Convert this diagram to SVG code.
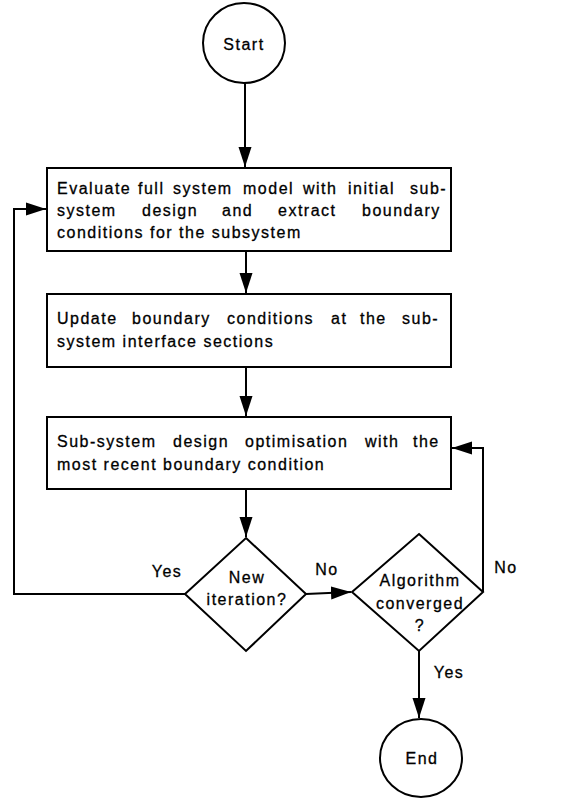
<svg xmlns="http://www.w3.org/2000/svg" width="567" height="798" viewBox="0 0 567 798">
<style>
.s{fill:#fff;stroke:#000;stroke-width:2}
.c{fill:none;stroke:#000;stroke-width:2}
text{font-family:"Liberation Sans",Arial,sans-serif;font-size:16px;letter-spacing:1.5px;fill:#000;stroke:#000;stroke-width:0.3}
.m{text-anchor:middle}
</style>
<defs>
<marker id="ah" markerUnits="userSpaceOnUse" markerWidth="21" markerHeight="14" refX="20" refY="7" orient="auto">
<path d="M0,0.5 L20,7 L0,13.5 z" fill="#000"/>
</marker>
</defs>
<rect width="567" height="798" fill="#fff"/>
<g id="connectors">
<path class="c" d="M245,83 V167" marker-end="url(#ah)"/>
<path class="c" d="M246,251 V293" marker-end="url(#ah)"/>
<path class="c" d="M246,367 V416" marker-end="url(#ah)"/>
<path class="c" d="M246,489 V537" marker-end="url(#ah)"/>
<path class="c" d="M306,594 L351,592" marker-end="url(#ah)"/>
<path class="c" d="M185,594 H14 V209 H46" marker-end="url(#ah)"/>
<path class="c" d="M483,592 V448 H452" marker-end="url(#ah)"/>
<path class="c" d="M419,651 V718" marker-end="url(#ah)"/>
<text x="167" y="577" class="m">Yes</text>
<text x="327" y="575" class="m">No</text>
<text x="506" y="573" class="m">No</text>
<text x="449" y="678" class="m">Yes</text>
</g>
<g id="start">
<ellipse class="s" cx="244" cy="43" rx="41" ry="40"/>
<text x="244" y="50" class="m">Start</text>
</g>
<g id="evaluate">
<rect class="s" x="47" y="168" width="404" height="83"/>
<text y="194"><tspan x="57">Evaluate</tspan><tspan x="138">full</tspan><tspan x="173">system</tspan><tspan x="243">model</tspan><tspan x="303">with</tspan><tspan x="348">initial</tspan><tspan x="410">sub-</tspan></text>
<text y="216"><tspan x="57">system</tspan><tspan x="142">design</tspan><tspan x="222">and</tspan><tspan x="278">extract</tspan><tspan x="362">boundary</tspan></text>
<text y="238"><tspan x="57">conditions for the subsystem</tspan></text>
</g>
<g id="update">
<rect class="s" x="47" y="294" width="404" height="73"/>
<text y="324"><tspan x="57">Update</tspan><tspan x="132">boundary</tspan><tspan x="227">conditions</tspan><tspan x="331">at</tspan><tspan x="360">the</tspan><tspan x="402">sub-</tspan></text>
<text y="347"><tspan x="57">system interface sections</tspan></text>
</g>
<g id="optimise">
<rect class="s" x="47" y="417" width="404" height="72"/>
<text y="447"><tspan x="57">Sub-system</tspan><tspan x="173">design</tspan><tspan x="245">optimisation</tspan><tspan x="365">with</tspan><tspan x="413">the</tspan></text>
<text y="470"><tspan x="57">most recent boundary condition</tspan></text>
</g>
<g id="new-iteration">
<polygon class="s" points="246,538 306,594 246,651 185,594"/>
<text x="247" y="583" class="m">New</text>
<text x="247" y="605" class="m">iteration?</text>
</g>
<g id="converged">
<polygon class="s" points="419,534 483,592 419,651 352,592"/>
<text x="420" y="586" class="m">Algorithm</text>
<text x="420" y="609" class="m">converged</text>
<text x="420" y="631" class="m">?</text>
</g>
<g id="end">
<ellipse class="s" cx="421" cy="758" rx="41" ry="39"/>
<text x="422" y="764" class="m">End</text>
</g>
</svg>
